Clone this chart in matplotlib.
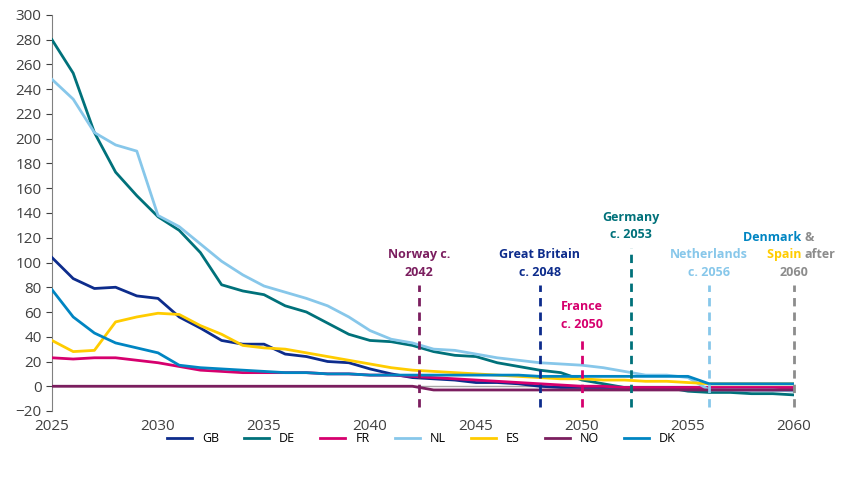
import matplotlib.pyplot as plt
import numpy as np

plt.rcParams['font.family'] = ['Open Sans', 'DejaVu Sans']

years = np.arange(2025, 2061)

gb = [104, 87, 79, 80, 73, 71, 56, 47, 37, 34, 34, 26, 24, 20, 19, 14, 10, 7, 6, 5,
      3, 3, 2, 0, -1, -1, -1, -1, -1, -1, -1, -2, -3, -3, -3, -3]
de = [280, 253, 205, 173, 154, 137, 126, 108, 82, 77, 74, 65, 60, 51, 42, 37, 36, 33, 28, 25,
      24, 19, 16, 13, 11, 5, 2, -1, -1, -1, -4, -5, -5, -6, -6, -7]
fr = [23, 22, 23, 23, 21, 19, 16, 13, 12, 11, 11, 11, 11, 10, 10, 9, 9, 8, 7, 6,
      5, 4, 3, 2, 1, 0, 0, -1, -1, -1, -1, -1, -1, -1, -1, -1]
nl = [248, 232, 205, 195, 190, 138, 129, 115, 101, 90, 81, 76, 71, 65, 56, 45, 38, 35, 30, 29,
      26, 23, 21, 19, 18, 17, 15, 12, 9, 9, 7, -3, -3, -3, -3, -4]
es = [37, 28, 29, 52, 56, 59, 58, 49, 42, 33, 31, 30, 27, 24, 21, 18, 15, 13, 12, 11,
      10, 9, 8, 7, 6, 6, 5, 5, 4, 4, 3, 2, 2, 2, 2, 2]
no = [0] * 18 + [-3] * 18
dk = [78, 56, 43, 35, 31, 27, 17, 15, 14, 13, 12, 11, 11, 10, 10, 9, 9, 9, 9, 9,
      9, 9, 9, 8, 8, 8, 8, 8, 8, 8, 8, 2, 2, 2, 2, 2]

series = [("GB", gb, "#0D2C8C"), ("DE", de, "#00717A"), ("FR", fr, "#D6006E"),
          ("NL", nl, "#87C7EA"), ("ES", es, "#FFCC00"), ("NO", no, "#7B1E5F"),
          ("DK", dk, "#0085C2")]

# (x, top of dashed line, colour, label lines as (text, colour) parts)
markers = [
    (2042.3, 82, "#7B1E5F", [[("Norway c.", "#7B1E5F")], [("2042", "#7B1E5F")]]),
    (2048.0, 82, "#0D2C8C", [[("Great Britain", "#0D2C8C")], [("c. 2048", "#0D2C8C")]]),
    (2050.0, 40, "#D6006E", [[("France", "#D6006E")], [("c. 2050", "#D6006E")]]),
    (2052.3, 112, "#00717A", [[("Germany", "#00717A")], [("c. 2053", "#00717A")]]),
    (2056.0, 82, "#87C7EA", [[("Netherlands", "#87C7EA")], [("c. 2056", "#87C7EA")]]),
    (2060.0, 82, "#8C8C8C", [[("Denmark ", "#0085C2"), ("&", "#8C8C8C")],
                             [("Spain ", "#FFCC00"), ("after", "#8C8C8C")],
                             [("2060", "#8C8C8C")]]),
]

fig = plt.figure(figsize=(8.43, 4.91), dpi=100)
ax = fig.add_axes([52 / 843, 80 / 491, 742 / 843, 396 / 491])

ax.axhline(0, color="#A6A6A6", lw=1, zorder=1)
for name, vals, col in series:
    ax.plot(years, vals, color=col, lw=2, label=name, zorder=3)

for x, top, col, lines in markers:
    ax.plot([x, x], [-17, top], color=col, lw=2, ls=(0, (3, 2.2)), zorder=4, clip_on=False)
    n = len(lines)
    for i, parts in enumerate(lines):
        y = top + 5 + (n - 1 - i) * 14
        if len(parts) == 1:
            ax.text(x, y, parts[0][0], color=parts[0][1], ha="center", va="bottom",
                    fontsize=9, fontweight="bold")
        else:
            ax.text(x + 0.5, y, parts[0][0], color=parts[0][1], ha="right", va="bottom",
                    fontsize=9, fontweight="bold")
            ax.text(x + 0.5, y, parts[1][0], color=parts[1][1], ha="left", va="bottom",
                    fontsize=9, fontweight="bold")

ax.set_xlim(2025, 2060)
ax.set_ylim(-20, 300)
ax.set_xticks(range(2025, 2061, 5))
ax.set_yticks(range(-20, 301, 20))
ax.tick_params(labelsize=11, colors="#404040", length=4)
ax.tick_params(axis="x", length=0, pad=6)
for s in ["top", "right"]:
    ax.spines[s].set_visible(False)
ax.spines["left"].set_color("#808080")
ax.spines["bottom"].set_visible(False)

fig.legend(loc="lower center", bbox_to_anchor=(0.5, 0.07), ncol=7, frameon=False,
           fontsize=9, handlelength=2, columnspacing=2)

fig.savefig("out.png", dpi=100)
